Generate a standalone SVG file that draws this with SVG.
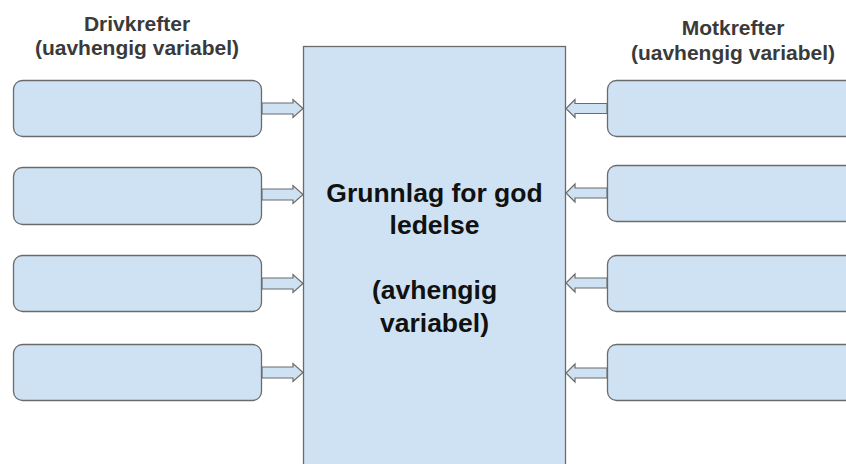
<svg xmlns="http://www.w3.org/2000/svg" width="846" height="464" viewBox="0 0 846 464">
<style>
.box{fill:#cfe2f3;stroke:#6b6b6b;stroke-width:1.3}
.arr{fill:#cfe2f3;stroke:#6b6b6b;stroke-width:1.2;stroke-linejoin:miter}
.hdr{font-family:"Liberation Sans",Arial,sans-serif;font-weight:bold;font-size:21px;fill:#3a3a3a;text-anchor:middle}
.main{font-family:"Liberation Sans",Arial,sans-serif;font-weight:bold;font-size:26.5px;fill:#111;text-anchor:middle}
</style>
<rect width="846" height="464" fill="#fff"/>
<g id="header-left"><text class="hdr" x="137" y="31">Drivkrefter</text><text class="hdr" x="137" y="55">(uavhengig variabel)</text></g>
<g id="header-right"><text class="hdr" x="733" y="35">Motkrefter</text><text class="hdr" x="733" y="60">(uavhengig variabel)</text></g>
<g id="center">
<rect class="box" x="303.5" y="46.5" width="262" height="430"/>
<text class="main" x="434.5" y="202">Grunnlag for god</text>
<text class="main" x="434.5" y="234">ledelse</text>
<text class="main" x="434.5" y="299">(avhengig</text>
<text class="main" x="434.5" y="332">variabel)</text>
</g>
<g id="left1"><rect class="box" x="13.5" y="80.5" width="248" height="56" rx="9"/></g>
<g id="left2"><rect class="box" x="13.5" y="167.5" width="248" height="57" rx="9"/></g>
<g id="left3"><rect class="box" x="13.5" y="255.5" width="248" height="56" rx="9"/></g>
<g id="left4"><rect class="box" x="13.5" y="344.5" width="248" height="56" rx="9"/></g>
<g id="right1"><rect class="box" x="607.5" y="80.5" width="260" height="56" rx="9"/></g>
<g id="right2"><rect class="box" x="607.5" y="165.5" width="260" height="56" rx="9"/></g>
<g id="right3"><rect class="box" x="607.5" y="255.5" width="260" height="56" rx="9"/></g>
<g id="right4"><rect class="box" x="607.5" y="344.5" width="260" height="56" rx="9"/></g>
<g id="connectors">
<path class="arr" d="M262,103 H293 V99.5 L303,108.5 L293,117.5 V114 H262 Z"/>
<path class="arr" d="M262,189 H293 V185.5 L303,194.5 L293,203.5 V200 H262 Z"/>
<path class="arr" d="M262,278 H293 V274.5 L303,283.5 L293,292.5 V289 H262 Z"/>
<path class="arr" d="M262,367 H293 V363.5 L303,372.5 L293,381.5 V378 H262 Z"/>
<path class="arr" d="M607,103.5 H575 V99.5 L566,108.5 L575,117.5 V113.5 H607 Z"/>
<path class="arr" d="M607,188 H575 V184 L566,193 L575,202 V198 H607 Z"/>
<path class="arr" d="M607,278 H575 V274 L566,283 L575,292 V288 H607 Z"/>
<path class="arr" d="M607,368 H575 V364 L566,373 L575,382 V378 H607 Z"/>
</g>
</svg>
